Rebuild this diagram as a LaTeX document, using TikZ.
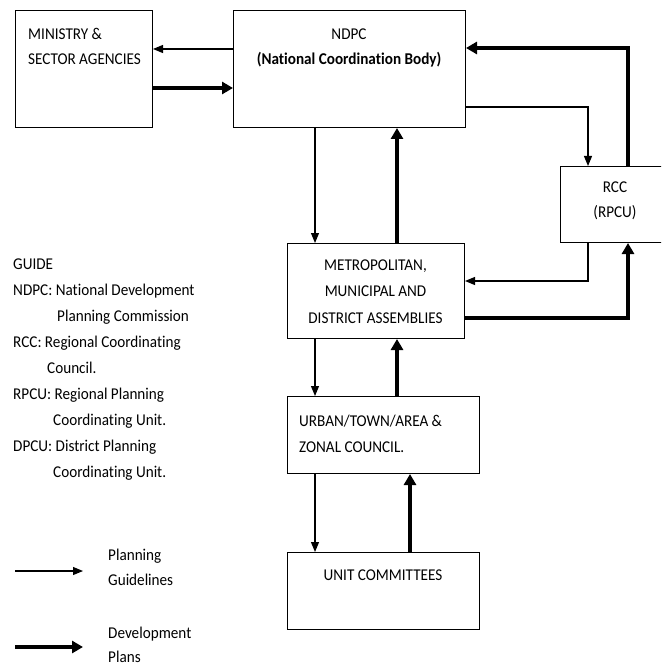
\documentclass[tikz,border=0pt]{standalone}
\usepackage{fontspec}
\setmainfont{Carlito}[FakeStretch=0.92,RawFeature={-liga}]
\usetikzlibrary{arrows.meta}
\begin{document}
\begin{tikzpicture}[x=1pt,y=-1pt,
  box/.style={draw=black,line width=1pt,anchor=north west,inner sep=0pt,minimum width=#1},
  txt/.style={inner sep=0pt,font=\fontsize{16.5}{26}\selectfont},
  txtl/.style={txt,anchor=base west},
  txtc/.style={txt,anchor=base},
  plan/.style={line width=1.1pt,-{Triangle[length=10pt,width=8pt]}},
  devp/.style={line width=3.6pt,-{Triangle[length=11pt,width=12pt]}},
]
\useasboundingbox (0,0) rectangle (661,668);
\clip (0,0) rectangle (661,668);
% boxes
\node[box=137pt,minimum height=117pt] (min) at (15,10) {};
\node[box=232pt,minimum height=117pt] (ndpc) at (233,10) {};
\node[box=112pt,minimum height=76pt] (rcc) at (560,166) {};
\node[box=177pt,minimum height=95pt] (mmda) at (287,243) {};
\node[box=192pt,minimum height=77pt] (urban) at (287,396) {};
\node[box=192pt,minimum height=77pt] (unit) at (287,552) {};
% box texts
\node[txtl] (t1) at (28,39.5) {MINISTRY \&};
\node[txtl] (t2) at (28,65) {SECTOR AGENCIES};
\node[txtc] (t3) at (349,40) {NDPC};
\node[txtc,font=\fontsize{16.5}{26}\selectfont\bfseries] (t4) at (349,64.5) {(National Coordination Body)};
\node[txtc] (t5) at (615,193) {RCC};
\node[txtc] (t6) at (615,218) {(RPCU)};
\node[txtc] (t7) at (375.5,270) {METROPOLITAN,};
\node[txtc] (t8) at (375.5,296.5) {MUNICIPAL AND};
\node[txtc] (t9) at (375.5,323) {DISTRICT ASSEMBLIES};
\node[txtl] (t10) at (299,426.5) {URBAN/TOWN/AREA \&};
\node[txtl] (t11) at (299,452.5) {ZONAL COUNCIL.};
\node[txtc] (t12) at (383,580) {UNIT COMMITTEES};
% guide
\node[txtl] (g0) at (13,269) {GUIDE};
\node[txtl] (g1) at (13,295) {NDPC: National Development};
\node[txtl] (g2) at (57,321) {Planning Commission};
\node[txtl] (g3) at (13,347) {RCC: Regional Coordinating};
\node[txtl] (g4) at (47,373) {Council.};
\node[txtl] (g5) at (13,399.5) {RPCU: Regional Planning};
\node[txtl] (g6) at (53,425.5) {Coordinating Unit.};
\node[txtl] (g7) at (13,451.5) {DPCU: District Planning};
\node[txtl] (g8) at (53,477) {Coordinating Unit.};
% legend
\node[txtl] (l1) at (108,560) {Planning};
\node[txtl] (l2) at (108,585) {Guidelines};
\node[txtl] (l3) at (108,638) {Development};
\node[txtl] (l4) at (108,662) {Plans};
\coordinate (la1) at (15,571);
\coordinate (la2) at (83,571);
\coordinate (lb1) at (15,647);
\coordinate (lb2) at (83,647);
\draw[plan] (la1) -- (la2);
\draw[devp] (lb1) -- (lb2);
% helper coordinates
\coordinate (h49) at (0,49);
\coordinate (h88) at (0,88);
\coordinate (h48) at (0,48);
\coordinate (h107) at (0,107);
\coordinate (x628) at (628,0);
\coordinate (x588) at (588,0);
\coordinate (x315) at (315,0);
\coordinate (x397) at (397,0);
\coordinate (x410) at (410,0);
\coordinate (h281) at (0,281);
\coordinate (h318) at (0,318);
% connectors
\draw[plan] (ndpc.west |- h49) -- (min.east |- h49);
\draw[devp] (min.east |- h88) -- (ndpc.west |- h88);
\draw[devp] (x628 |- rcc.north) -- (x628 |- h48) -- (ndpc.east |- h48);
\draw[plan] (ndpc.east |- h107) -- (x588 |- h107) -- (x588 |- rcc.north);
\draw[plan] (x315 |- ndpc.south) -- (x315 |- mmda.north);
\draw[devp] (x397 |- mmda.north) -- (x397 |- ndpc.south);
\draw[plan] (x588 |- rcc.south) -- (x588 |- h281) -- (mmda.east |- h281);
\draw[devp] (mmda.east |- h318) -- (x628 |- h318) -- (x628 |- rcc.south);
\draw[plan] (x315 |- mmda.south) -- (x315 |- urban.north);
\draw[devp] (x397 |- urban.north) -- (x397 |- mmda.south);
\draw[plan] (x315 |- urban.south) -- (x315 |- unit.north);
\draw[devp] (x410 |- unit.north) -- (x410 |- urban.south);
\end{tikzpicture}
\end{document}
